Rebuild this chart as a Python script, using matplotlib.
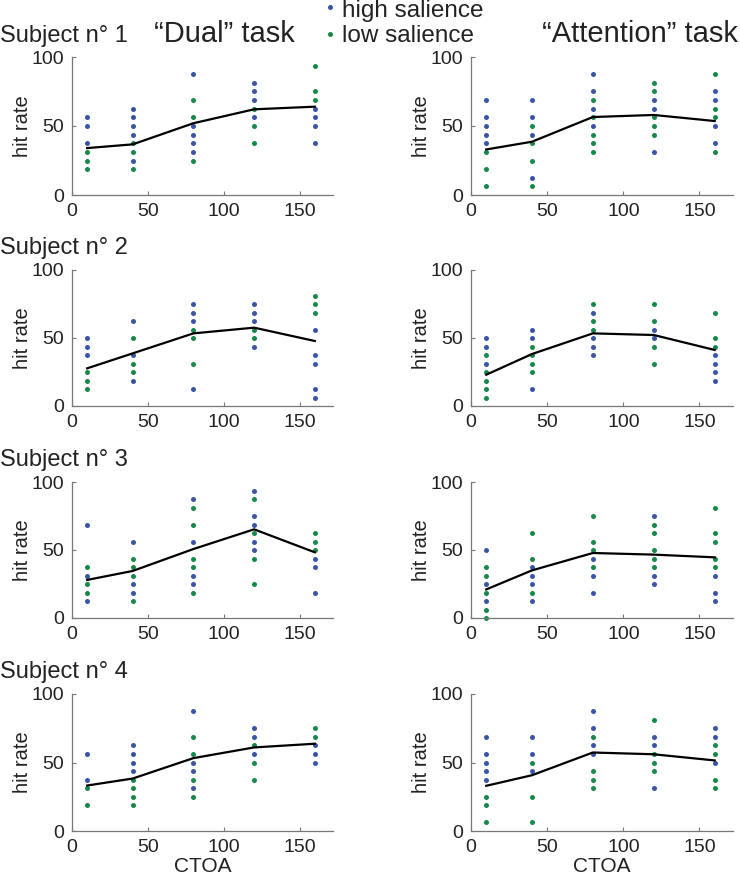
import matplotlib
matplotlib.use("Agg")
import matplotlib.pyplot as plt

plt.rcParams['font.family'] = ['Liberation Sans', 'DejaVu Sans']

ctoa = [10, 40, 80, 120, 160]
subjects = ["Subject n\u00b0 1", "Subject n\u00b0 2", "Subject n\u00b0 3", "Subject n\u00b0 4"]
tasks = ["\u201cDual\u201d task", "\u201cAttention\u201d task"]

# hit rates (%) read per CTOA; high salience = blue, low salience = green
s1_dual_high = [[56.25, 50, 37.5], [62.5, 56.25, 50, 43.75, 25], [87.5, 50, 43.75, 37.5, 31.25],
                [81.25, 75, 68.75, 56.25], [62.5, 56.25, 50, 37.5]]
s1_dual_low = [[31.25, 25, 18.75], [37.5, 31.25, 18.75], [68.75, 56.25, 25],
               [62.5, 50, 37.5], [93.75, 75, 68.75]]
s1_dual_mean = [34, 36.7, 52, 62.1, 64]

s1_att_high = [[68.75, 56.25, 50, 43.75, 37.5], [68.75, 56.25, 43.75, 12.5], [87.5, 75, 62.5, 50],
               [68.75, 62.5, 31.25], [75, 68.75, 50, 37.5]]
s1_att_low = [[31.25, 18.75, 6.25], [50, 37.5, 25, 6.25], [68.75, 56.25, 43.75, 37.5, 31.25],
              [81.25, 75, 56.25, 50, 43.75], [87.5, 62.5, 56.25, 31.25]]
s1_att_mean = [33, 38.6, 56.5, 58, 53.6]

s2_dual_high = [[50, 43.75, 37.5], [62.5, 37.5, 18.75], [75, 68.75, 62.5, 12.5],
                [75, 68.75, 62.5, 43.75], [56.25, 37.5, 31.25, 12.5, 6.25]]
s2_dual_low = [[25, 18.75, 12.5], [50, 31.25, 25], [56.25, 50, 31.25],
               [56.25, 50], [81.25, 75, 68.75]]
s2_dual_mean = [27.7, 38.7, 53.4, 57.6, 47.8]

s2_att_high = [[50, 43.75, 31.25], [56.25, 50, 12.5], [68.75, 50, 43.75, 37.5],
               [56.25, 50], [37.5, 31.25, 25, 18.75]]
s2_att_low = [[37.5, 25, 18.75, 12.5, 6.25], [43.75, 37.5, 31.25, 25], [75, 62.5, 56.25],
              [75, 62.5, 43.75, 31.25], [68.75, 50, 43.75]]
s2_att_mean = [23, 38.2, 53.4, 52.2, 41.2]

s3_dual_high = [[68.75, 31.25, 12.5], [56.25, 25, 18.75], [87.5, 56.25, 31.25, 25],
                [93.75, 75, 68.75, 56.25, 50], [43.75, 37.5, 18.75]]
s3_dual_low = [[37.5, 25, 18.75], [43.75, 37.5, 31.25, 12.5], [81.25, 68.75, 43.75, 37.5, 18.75],
               [87.5, 62.5, 43.75, 25], [62.5, 56.25, 50]]
s3_dual_mean = [28, 34.6, 50.7, 65.2, 48.3]

s3_att_high = [[50, 25, 12.5], [37.5, 31.25, 25, 12.5], [43.75, 31.25, 18.75],
               [75, 31.25, 25], [31.25, 18.75, 12.5]]
s3_att_low = [[37.5, 31.25, 18.75, 6.25, 0], [62.5, 43.75, 18.75], [75, 56.25, 50, 37.5],
              [68.75, 62.5, 50, 43.75, 37.5], [81.25, 62.5, 56.25, 43.75, 37.5]]
s3_att_mean = [21, 35, 47.8, 46.6, 44.6]

s4_dual_high = [[56.25, 37.5], [62.5, 56.25, 50, 43.75], [87.5, 50, 43.75, 31.25],
                [75, 68.75, 56.25], [62.5, 56.25, 50]]
s4_dual_low = [[31.25, 18.75], [37.5, 31.25, 25, 18.75], [68.75, 56.25, 37.5, 25],
               [62.5, 50, 37.5], [75, 68.75]]
s4_dual_mean = [33.2, 38.3, 53.2, 61, 63.7]

s4_att_high = [[68.75, 56.25, 50, 43.75, 37.5], [68.75, 56.25, 43.75], [87.5, 75, 62.5, 56.25],
               [68.75, 62.5, 31.25], [75, 68.75, 50]]
s4_att_low = [[25, 18.75, 6.25], [50, 25, 6.25], [68.75, 43.75, 37.5, 31.25],
              [81.25, 56.25, 50, 43.75], [62.5, 56.25, 37.5, 31.25]]
s4_att_mean = [33, 40.7, 57.3, 56, 51.5]

panels = [
    [(s1_dual_high, s1_dual_low, s1_dual_mean), (s1_att_high, s1_att_low, s1_att_mean)],
    [(s2_dual_high, s2_dual_low, s2_dual_mean), (s2_att_high, s2_att_low, s2_att_mean)],
    [(s3_dual_high, s3_dual_low, s3_dual_mean), (s3_att_high, s3_att_low, s3_att_mean)],
    [(s4_dual_high, s4_dual_low, s4_dual_mean), (s4_att_high, s4_att_low, s4_att_mean)],
]

blue = '#3b55a5'
green = '#16894a'
txt = '#222222'

W, H = 740, 877
fig = plt.figure(figsize=(W / 100, H / 100), dpi=100)

# axes boxes in pixels: (left, right) per column, (top, bottom) per row
cols = [(72, 333), (471, 733)]
rows = [(57, 195), (270, 406), (482, 618), (694, 831)]
title_base = [42, 254, 466, 678]

def fy(py):
    return 1 - py / H

for r, (top, bot) in enumerate(rows):
    for c, (left, right) in enumerate(cols):
        ax = fig.add_axes([left / W, fy(bot), (right - left) / W, (bot - top) / H])
        high, low, mean = panels[r][c]
        for x, ys in zip(ctoa, high):
            ax.plot([x] * len(ys), ys, 'o', color=blue, ms=3.6, mec='none', clip_on=False)
        for x, ys in zip(ctoa, low):
            ax.plot([x] * len(ys), ys, 'o', color=green, ms=3.6, mec='none', clip_on=False)
        ax.plot(ctoa, mean, color='black', lw=1.6, zorder=5)
        ax.set_xlim(0, 172)
        ax.set_ylim(0, 100)
        ax.set_xticks([0, 50, 100, 150])
        ax.set_yticks([0, 50, 100])
        for s in ['top', 'right']:
            ax.spines[s].set_visible(False)
        for s in ['left', 'bottom']:
            ax.spines[s].set_color('#777777')
            ax.spines[s].set_linewidth(0.9)
        ax.tick_params(direction='in', length=3, width=0.8, color='#777777',
                       labelsize=14, labelcolor=txt, pad=6)
        ax.set_ylabel('hit rate', fontsize=14.5, color=txt, labelpad=-1)
        if r == 3:
            fig.text((left + right) / 2 / W, fy(872), 'CTOA', fontsize=15, color=txt,
                     ha='center', va='baseline')
    fig.text(0, fy(title_base[r]), subjects[r], fontsize=17, color=txt, va='baseline', ha='left')

fig.text(224 / W, fy(42.5), tasks[0], fontsize=21, color=txt, va='baseline', ha='center')
fig.text(640 / W, fy(41.5), tasks[1], fontsize=21, color=txt, va='baseline', ha='center')

# legend
fig.text(342 / W, fy(17), 'high salience', fontsize=17.5, color=txt, va='baseline', ha='left')
fig.text(342 / W, fy(42.5), 'low salience', fontsize=17.5, color=txt, va='baseline', ha='left')
fig.lines.append(plt.Line2D([330 / W], [fy(7)], marker='o', color=blue, ms=3.6, mec='none',
                            transform=fig.transFigure, figure=fig))
fig.lines.append(plt.Line2D([330 / W], [fy(34)], marker='o', color=green, ms=3.6, mec='none',
                            transform=fig.transFigure, figure=fig))

fig.savefig('out.png', dpi=100)
